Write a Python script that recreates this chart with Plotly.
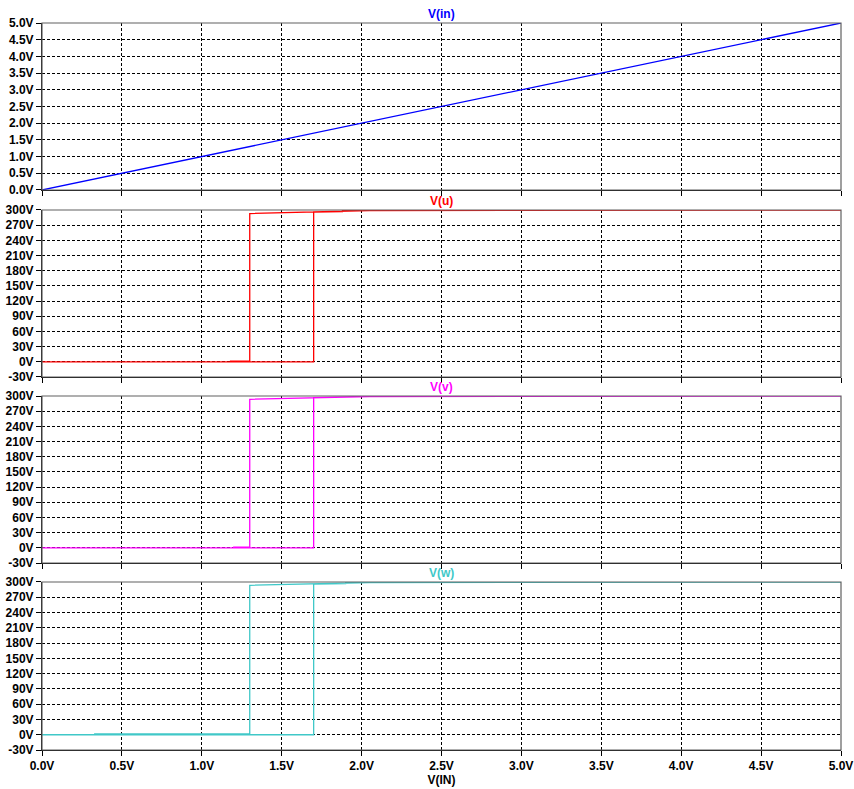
import plotly.graph_objects as go

# ---- data ----
vin_x = [0.0, 5.0]
vin_y = [0.0, 5.0]

# V(u): up-sweep then down-sweep (hysteresis)
u_x = [0.0, 1.70, 1.70, 1.88, 1.88, 2.05, 5.0, 5.0, 2.05, 1.30, 1.30, 1.18, 1.18, 0.0]
u_y = [0.0, 0.0, 296.0, 297.0, 299.0, 299.5, 300.0, 300.0, 299.0, 293.0, 1.5, 1.5, 0.0, 0.0]

# V(v)
v_x = [0.0, 1.70, 1.70, 1.88, 1.88, 2.05, 5.0, 5.0, 2.05, 1.30, 1.30, 1.20, 1.20, 0.0]
v_y = [0.0, 0.0, 297.0, 298.0, 299.0, 299.5, 300.0, 300.0, 299.0, 293.5, 1.5, 1.5, 0.0, 0.0]

# V(w)
w_x = [0.0, 1.70, 1.70, 1.90, 1.90, 2.05, 5.0, 5.0, 2.05, 1.30, 1.30, 0.33, 0.33, 0.0]
w_y = [0.0, 0.0, 296.0, 297.0, 299.0, 299.5, 300.0, 300.0, 299.0, 293.5, 1.8, 1.8, 0.0, 0.0]

x_ticks = [0.0, 0.5, 1.0, 1.5, 2.0, 2.5, 3.0, 3.5, 4.0, 4.5, 5.0]
x_labels = ["0.0V", "0.5V", "1.0V", "1.5V", "2.0V", "2.5V", "3.0V", "3.5V", "4.0V", "4.5V", "5.0V"]
vin_ticks = [0.0, 0.5, 1.0, 1.5, 2.0, 2.5, 3.0, 3.5, 4.0, 4.5, 5.0]
vin_labels = ["0.0V", "0.5V", "1.0V", "1.5V", "2.0V", "2.5V", "3.0V", "3.5V", "4.0V", "4.5V", "5.0V"]
hv_ticks = [-30, 0, 30, 60, 90, 120, 150, 180, 210, 240, 270, 300]
hv_labels = ["-30V", "0V", "30V", "60V", "90V", "120V", "150V", "180V", "210V", "240V", "270V", "300V"]

titles = ["V(in)", "V(u)", "V(v)", "V(w)"]
colors = ["#0000ff", "#ff0000", "#ff00ff", "#40c8c8"]

domains = [[0.7703, 1.0], [0.5131, 0.7428], [0.2572, 0.4869], [0.0, 0.2311]]

fig = go.Figure()
series = [(vin_x, vin_y), (u_x, u_y), (v_x, v_y), (w_x, w_y)]
for i, (xs, ys) in enumerate(series):
    ax = "" if i == 0 else str(i + 1)
    fig.add_trace(go.Scatter(x=xs, y=ys, mode="lines",
                             line=dict(color=colors[i], width=1.3),
                             xaxis="x" + ax, yaxis="y" + ax, showlegend=False,
                             hoverinfo="skip"))

FONT = "Liberation Sans, Arial, sans-serif"
tickfont = dict(family=FONT, size=12, color="#000000", weight="bold")
grid = dict(showgrid=True, gridcolor="#000000", griddash="3px,2px", gridwidth=1)

layout = dict(
    width=854, height=789,
    margin=dict(l=42, r=13, t=23, b=39, autoexpand=False),
    paper_bgcolor="white", plot_bgcolor="white",
    showlegend=False,
)

for i in range(4):
    ax = "" if i == 0 else str(i + 1)
    xa = dict(range=[0, 5], tickvals=x_ticks, ticktext=x_labels,
              showline=True, linecolor="#000000", linewidth=1,
              ticks="outside", ticklen=5, tickcolor="#000000",
              tickfont=tickfont, zeroline=False, anchor="y" + ax,
              showticklabels=(i == 3), automargin=False, **grid)
    if i > 0:
        xa["matches"] = "x"
    if i == 3:
        xa["title"] = dict(text="V(IN)", font=dict(family=FONT, size=12,
                                                  color="#000000", weight="bold"),
                           standoff=0)
    if i == 0:
        yt, yl, yr = vin_ticks, vin_labels, [0, 5]
    else:
        yt, yl, yr = hv_ticks, hv_labels, [-30, 300]
    ya = dict(range=yr, tickvals=yt, ticktext=yl, domain=domains[i],
              showline=True, linecolor="#000000", linewidth=1,
              ticks="outside", ticklen=5, tickcolor="#000000", ticklabelstandoff=0,
              tickfont=tickfont, zeroline=False, anchor="x" + ax,
              automargin=False, **grid)
    layout["xaxis" + ax] = xa
    layout["yaxis" + ax] = ya

fig.update_layout(**layout)

# gray frame (top / right) for each pane, and pane titles
for i in range(4):
    ax = "" if i == 0 else str(i + 1)
    fig.add_shape(type="rect", xref="x" + ax + " domain", yref="y" + ax + " domain",
                  x0=0, x1=1, y0=0, y1=1, line=dict(color="#606060", width=1.2),
                  layer="above")
    fig.add_annotation(text=titles[i], xref="x" + ax + " domain", yref="y" + ax + " domain",
                       x=0.5, y=1.0, yanchor="bottom", xanchor="center", showarrow=False,
                       yshift=0, font=dict(family=FONT, size=12, color=colors[i],
                                           weight="bold"))

fig.write_html("out.html", config={"displayModeBar": False},
               post_script="document.body.style.margin='0';document.body.style.overflow='hidden';")
